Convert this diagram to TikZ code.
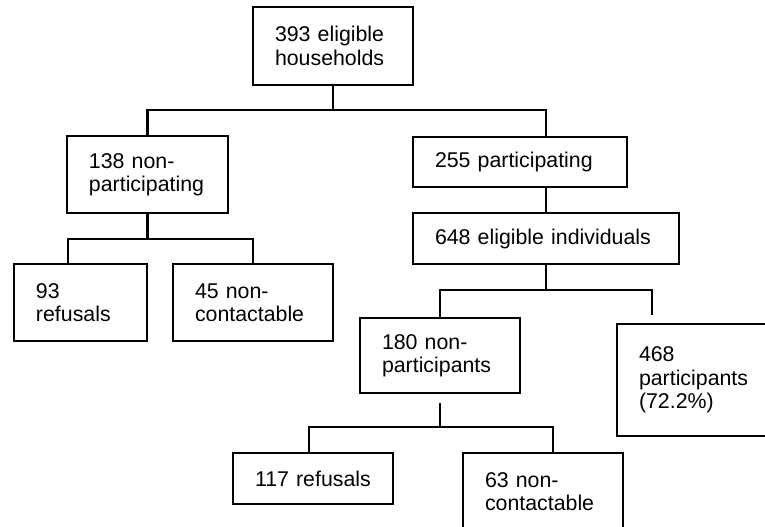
\documentclass[tikz,border=0pt]{standalone}
\usepackage{fontspec}
\setmainfont{Liberation Sans}
\hyphenpenalty=10000
\tikzset{every picture/.style={line width=1.8pt}}
\tikzset{
	flowbox/.style 2 args={draw, rectangle, align=left, inner xsep=16.5pt, inner ysep=0pt,
		text width=#1, minimum height=#2, font=\fontsize{16pt}{17.5pt}\selectfont}}

\begin{document}
\begin{tikzpicture}[x=0.75pt,y=0.75pt,yscale=-1,xscale=1]
	\useasboundingbox (0,0) rectangle (765,526);
	\clip (0,0) rectangle (765,526);

	%Box: households
	\node[flowbox={87pt}{58.5pt}] (hh) at (333,46) {393 eligible\\households};
	%Box: non-participating households
	\node[flowbox={87.75pt}{57.75pt}] (np) at (147.5,174.5) {138 non-\\participating};
	%Box: participating households
	\node[flowbox={127.5pt}{37.5pt}] (pp) at (520,162) {255 participating};
	%Box: eligible individuals
	\node[flowbox={166.5pt}{38.25pt}] (ei) at (546,238.5) {648 eligible individuals};
	%Box: household refusals
	\node[flowbox={66.75pt}{57.75pt}] (r1) at (80.5,302.5) {93\\refusals};
	%Box: household non-contactable
	\node[flowbox={87pt}{57.75pt}] (nc1) at (253,302.5) {45 non-\\contactable};
	%Box: non-participants
	\node[flowbox={87pt}{56.25pt}] (npi) at (440,355.5) {180 non-\\participants};
	%Box: participants
	\node[flowbox={87pt}{84pt}] (pi) at (697,380) {468\\participants\\(72.2\%)};
	%Box: individual refusals
	\node[flowbox={87pt}{38.25pt}] (r2) at (313,478.5) {117 refusals};
	%Box: individual non-contactable
	\node[flowbox={87pt}{57.75pt}] (nc2) at (543,491.5) {63 non-\\contactable};

	%Lines: households
	\coordinate (b1) at (333,110);
	\draw (hh.south) -- (b1);
	\draw (np.north) |- (b1) -| (ei.north |- pp.north);
	%Lines: non-participating
	\coordinate (b2) at (147.5,239);
	\draw (np.south) -- (b2);
	\draw ([xshift=-9.4pt]r1.north) |- (b2) -| (nc1.north);
	%Lines: participating
	\draw (ei.north |- pp.south) -- (ei.north);
	%Lines: eligible individuals
	\coordinate (b3) at (546,290);
	\draw (ei.south) -- (b3);
	\draw[shorten >=6pt] (npi.north) |- (b3) -| ([xshift=27pt]pi.north west);
	%Lines: non-participants
	\coordinate (b4) at (440,427);
	\draw[shorten <=6.75pt] (npi.south) -- (b4);
	\draw ([xshift=-3pt]r2.north) |- (b4) -| ([xshift=7.5pt]nc2.north);

\end{tikzpicture}
\end{document}
